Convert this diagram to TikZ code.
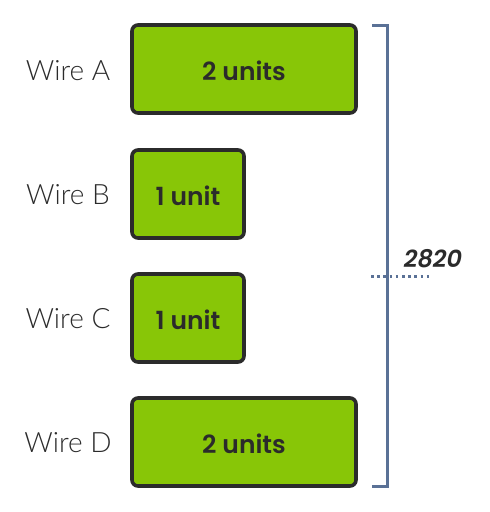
\documentclass[tikz,border=0pt]{standalone}
\usepackage{fontspec}
\setmainfont{Lato}
\newfontfamily\popfont{Poppins SemiBold}
\newfontfamily\wirefont{Lato Light}
\definecolor{boxgreen}{HTML}{88C607}
\definecolor{boxedge}{HTML}{2B2B2B}
\definecolor{brace}{HTML}{5A7196}
\definecolor{txt}{HTML}{2B2B2B}
\begin{document}
\begin{tikzpicture}[x=1pt,y=-1pt,
  unitbox/.style={draw=boxedge,line width=3.6pt,fill=boxgreen,rounded corners=6pt},
  unitlabel/.style={font=\popfont\fontsize{25}{28}\selectfont,text=txt},
  wirelabel/.style={font=\wirefont\fontsize{28}{32}\selectfont,text=txt}]
\useasboundingbox (0,0) rectangle (490,512);
\path[unitbox] (132,25) rectangle (356,113);
\path[unitbox] (132,150) rectangle (244,238);
\path[unitbox] (132,274) rectangle (244,362);
\path[unitbox] (132,398) rectangle (356,486);
\node[unitlabel] (ua) at (244,71) {2 units};
\node[unitlabel] (ub) at (188,196) {1 unit};
\node[unitlabel] (uc) at (188,320) {1 unit};
\node[unitlabel] (ud) at (244,444) {2 units};
\node[wirelabel] (wa) at (68,71) {Wire A};
\node[wirelabel] (wb) at (68,195) {Wire B};
\node[wirelabel] (wc) at (68,319) {Wire C};
\node[wirelabel] (wd) at (68,443) {Wire D};
\coordinate (bt) at (372,25);
\coordinate (bb) at (372,486);
\draw[brace,line width=3pt] (bt) -| (387,486) -- (bb);
\coordinate (dl) at (371,276);
\coordinate (dr) at (429,276);
\draw[brace,line width=3pt,dash pattern=on 2.6pt off 3.6pt] (dl) -- (dr);
\node[font=\popfont\fontsize{24}{27}\selectfont\itshape,text=txt] (len) at (433,259) {2820};
\end{tikzpicture}
\end{document}
